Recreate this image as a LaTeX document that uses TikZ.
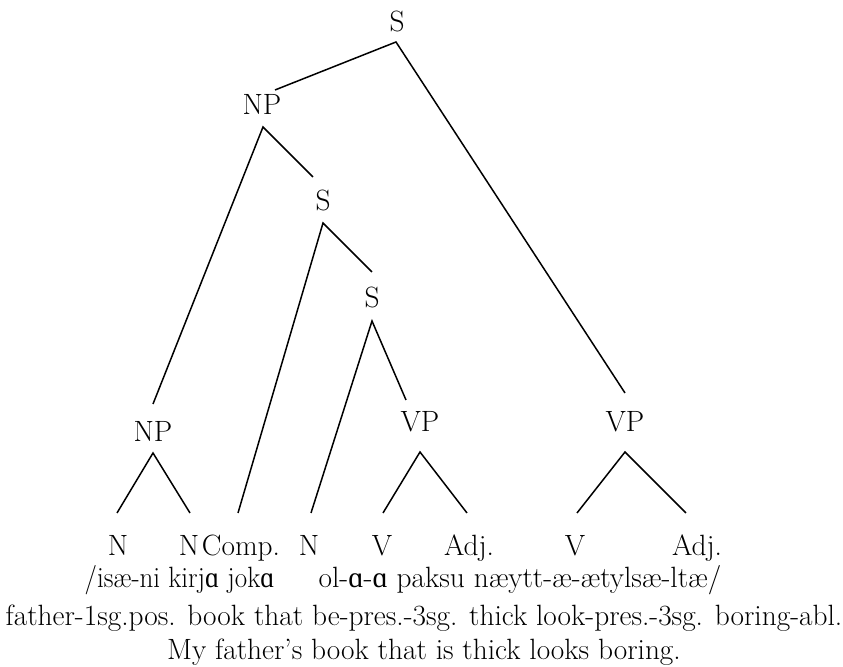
\documentclass[tikz,border=0pt]{standalone}
\usepackage{graphicx}
\usepackage{fontspec}
\setmainfont{lmroman17-regular.otf}
\newfontfamily\ipafont{Liberation Serif}
\newcommand{\scripta}{{\ipafont ɑ}}
\begin{document}
\begin{tikzpicture}[x=0.3pt,y=-0.3pt,
  font=\fontsize{8.8}{10}\selectfont,
  lbl/.style={inner sep=0pt,anchor=base},
  gloss/.style={inner sep=0pt,anchor=base west},
  edge/.style={line width=0.45pt}]
\useasboundingbox (0,0) rectangle (843,667);

% category labels
\node[lbl] (s0)  at (397,32)  {S};
\node[lbl] (np1) at (262,115) {NP};
\node[lbl] (s1)  at (323,211) {S};
\node[lbl] (s2)  at (372,308) {S};
\node[lbl] (np2) at (153,442) {NP};
\node[lbl] (vp1) at (420,432) {VP};
\node[lbl] (vp2) at (625,432) {VP};

\node[lbl] (n1)   at (118,556) {N};
\node[lbl] (n2)   at (189,556) {N};
\node[lbl] (comp) at (241,556) {Comp.};
\node[lbl] (n3)   at (309,556) {N};
\node[lbl] (v1)   at (382,556) {V};
\node[lbl] (adj1) at (469,556) {Adj.};
\node[lbl] (v2)   at (575,556) {V};
\node[lbl] (adj2) at (697,556) {Adj.};

% attachment points of the branches
\coordinate (s0b)  at (396,42);
\coordinate (np1t) at (275,90);
\coordinate (np1b) at (263,127);
\coordinate (s1t)  at (313,177);
\coordinate (s1b)  at (323,223);
\coordinate (s2t)  at (372,272);
\coordinate (s2b)  at (372,321);
\coordinate (np2t) at (153,404);
\coordinate (np2b) at (153,453);
\coordinate (vp1t) at (406,400);
\coordinate (vp1b) at (420,452);
\coordinate (vp2t) at (625,393);
\coordinate (vp2b) at (625,452);
\coordinate (n1t)   at (117,513);
\coordinate (n2t)   at (190,513);
\coordinate (compt) at (238,513);
\coordinate (n3t)   at (311,513);
\coordinate (v1t)   at (383,513);
\coordinate (adj1t) at (467,513);
\coordinate (v2t)   at (577,513);
\coordinate (adj2t) at (686,513);

% branches
\draw[edge] (np1t) -- (s0b) -- (vp2t);
\draw[edge] (np2t) -- (np1b) -- (s1t);
\draw[edge] (compt) -- (s1b) -- (s2t);
\draw[edge] (n3t) -- (s2b) -- (vp1t);
\draw[edge] (n1t) -- (np2b) -- (n2t);
\draw[edge] (v1t) -- (vp1b) -- (adj1t);
\draw[edge] (v2t) -- (vp2b) -- (adj2t);

% words, glosses and translation
\node[gloss] (w1) at (84,588)
  {\scalebox{0.92}[1]{/isæ-ni kirj\scripta{} jok\scripta}};
\node[gloss] (w2) at (318,588) {ol-\scripta-\scripta{} paksu næytt-æ-ætylsæ-ltæ/};
\node[lbl] (gl) at (424,626) {father-1sg.pos. book that be-pres.-3sg. thick look-pres.-3sg. boring-abl.};
\node[lbl] (tr) at (424,660) {My father’s book that is thick looks boring.};
\end{tikzpicture}
\end{document}
